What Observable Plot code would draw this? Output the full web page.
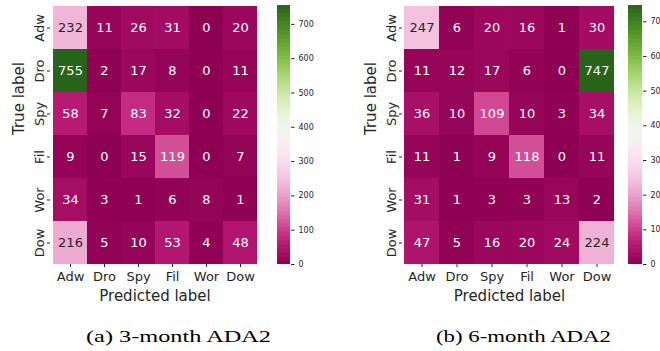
<!DOCTYPE html>
<html><head><meta charset="utf-8">
<script src="https://cdn.jsdelivr.net/npm/d3@7"></script>
<script src="https://cdn.jsdelivr.net/npm/@observablehq/plot@0.6"></script>
<style>
body{margin:0;background:#fff;}
#wrap{position:relative;width:660px;height:351px;overflow:hidden;}
</style></head><body><div id="wrap"></div>
<script>
const labels = ["Adw","Dro","Spy","Fil","Wor","Dow"];
const cm3 = [
  [232,11,26,31,0,20],
  [755,2,17,8,0,11],
  [58,7,83,32,0,22],
  [9,0,15,119,0,7],
  [34,3,1,6,8,1],
  [216,5,10,53,4,48]
];
const cm6 = [
  [247,6,20,16,1,30],
  [11,12,17,6,0,747],
  [36,10,109,10,3,34],
  [11,1,9,118,0,11],
  [31,1,3,3,13,2],
  [47,5,16,20,24,224]
];
const cbTicks3 = [0,100,200,300,400,500,600,700];
const cbTicks6 = [0,10,20,30,40,50,60,70];
const cbMax3 = 755;
const cbMax6 = 74.7;
const colorDiv3 = 1;
const colorDiv6 = 10;
const captions = ["(a) 3-month ADA2","(b) 6-month ADA2"];

const FONT = "DejaVu Sans";
const INK = "#262626";

function lum(c){
  const r = d3.rgb(c);
  const f = v => { v /= 255; return v <= 0.03928 ? v/12.92 : Math.pow((v+0.055)/1.055, 2.4); };
  return 0.2126*f(r.r) + 0.7152*f(r.g) + 0.0722*f(r.b);
}

function heatmap(cm, cmax, div, ml, mr, width){
  const data = cm.flatMap((row,i) => row.map((v,j) => ({t:labels[i], p:labels[j], v, c:v/div})));
  const light = d => lum(d3.interpolatePiYG(d.c/cmax)) > 0.408;
  return Plot.plot({
    width, height:310, marginLeft:ml, marginRight:mr, marginTop:5, marginBottom:46,
    style:{fontFamily:FONT, color:INK, background:"transparent", overflow:"visible"},
    x:{domain:labels, padding:0},
    y:{domain:labels, padding:0},
    color:{type:"linear", scheme:"piyg", domain:[0,cmax]},
    marks:[
      Plot.cell(data, {x:"p", y:"t", fill:"c"}),
      Plot.text(data.filter(light), {x:"p", y:"t", text:"v", fill:INK, fontSize:13}),
      Plot.text(data.filter(d => !light(d)), {x:"p", y:"t", text:"v", fill:"white", fontSize:13}),
      Plot.axisX({tickSize:3, tickPadding:4, fontSize:13, label:null}),
      Plot.axisY({tickSize:3, tickPadding:4, tickRotate:-90, fontSize:13, label:null}),
      Plot.text(["Predicted label"], {frameAnchor:"bottom", dy:36, fontSize:15, text:d => d}),
      Plot.text(["True label"], {frameAnchor:"left", dx:-31, rotate:-90, fontSize:15, text:d => d})
    ]
  });
}

function colorbar(cmax, ticks, width, barW){
  const n = 320, step = cmax/n;
  const bins = d3.range(n).map(i => i*step);
  return Plot.plot({
    width, height:310, marginLeft:0, marginRight:width-barW, marginTop:5, marginBottom:46,
    style:{fontFamily:FONT, color:INK, background:"transparent", overflow:"visible"},
    y:{domain:[0,cmax]},
    color:{type:"linear", scheme:"piyg", domain:[0,cmax]},
    marks:[
      Plot.rect(bins, {y1:d => d, y2:d => Math.min(cmax, d + step*1.8), fill:d => d + step/2}),
      Plot.axisY({anchor:"right", ticks, tickSize:3.5, tickPadding:4.5, fontSize:8, label:null})
    ]
  });
}

const wrap = document.getElementById("wrap");
function place(el, left){ el.style.position="absolute"; el.style.left=left+"px"; el.style.top="0px"; wrap.appendChild(el); }

place(heatmap(cm3, cbMax3, colorDiv3, 50, 71, 330), 0);
place(colorbar(cbMax3, cbTicks3, 50, 13), 277);
place(heatmap(cm6, cbMax6, colorDiv6, 72, 44, 330), 330);
place(colorbar(cbMax6, cbTicks6, 32, 14), 628);

// captions
const ns = "http://www.w3.org/2000/svg";
const cap = document.createElementNS(ns, "svg");
cap.setAttribute("width", 660); cap.setAttribute("height", 351);
cap.style.position="absolute"; cap.style.left="0px"; cap.style.top="0px"; cap.style.pointerEvents="none";
const capX = [86, 436], capLen = [185, 175];
captions.forEach((s,i) => {
  const t = document.createElementNS(ns, "text");
  t.setAttribute("x", capX[i]); t.setAttribute("y", 342);
  t.setAttribute("font-family", "Liberation Serif, serif");
  t.setAttribute("font-size", 17.5);
  t.setAttribute("textLength", capLen[i]);
  t.setAttribute("lengthAdjust", "spacingAndGlyphs");
  t.setAttribute("fill", "#000");
  t.textContent = s;
  cap.appendChild(t);
});
wrap.appendChild(cap);
</script></body></html>
